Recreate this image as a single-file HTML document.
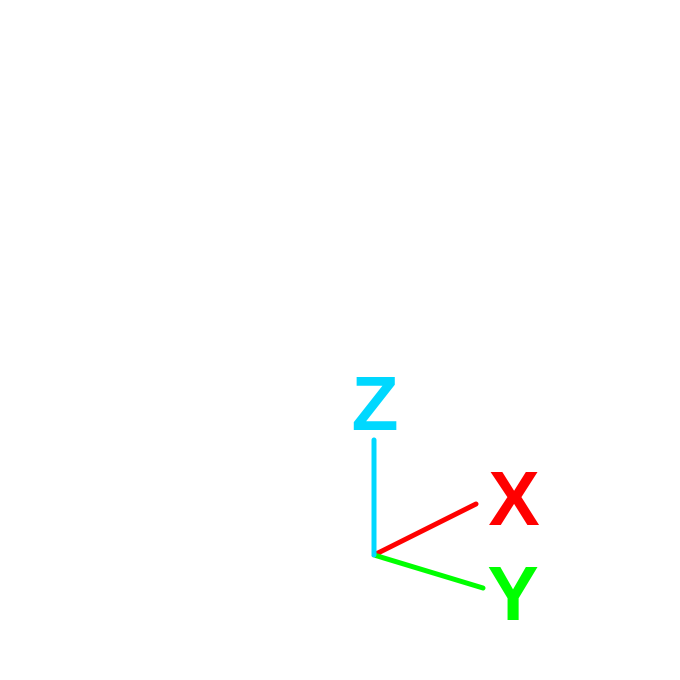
<!DOCTYPE html>
<html><head><meta charset="utf-8"><style>html,body{margin:0;padding:0;background:#fff}svg{display:block}</style></head>
<body>
<svg width="680" height="680" xmlns="http://www.w3.org/2000/svg">
<g id="g"></g>
</svg>
<script>
const axisNames = ['X','Y','Z'];
const axisDx = [102, 109, 0];
const axisDy = [-51, 33, -115];
const axisColors = ['#ff0000','#00ff00','#00d8ff'];
const labelX = [514, 513, 375];
const labelY = [525, 620, 430];
const ox = 374, oy = 555;
const g = document.getElementById('g');
const NS = 'http://www.w3.org/2000/svg';
for (let i = 0; i < axisNames.length; i++) {
  const l = document.createElementNS(NS, 'line');
  l.setAttribute('x1', ox); l.setAttribute('y1', oy);
  l.setAttribute('x2', ox + axisDx[i]); l.setAttribute('y2', oy + axisDy[i]);
  l.setAttribute('stroke', axisColors[i]); l.setAttribute('stroke-width', 5);
  l.setAttribute('stroke-linecap', 'round');
  
  
  g.appendChild(l);
  const t = document.createElementNS(NS, 'text');
  t.setAttribute('x', labelX[i]); t.setAttribute('y', labelY[i]);
  t.setAttribute('fill', axisColors[i]); t.setAttribute('text-anchor', 'middle');
  t.setAttribute('font-family', 'Liberation Sans, sans-serif');
  t.setAttribute('font-weight', 'bold'); t.setAttribute('font-size', '77');
  t.textContent = axisNames[i];
  
  
  g.appendChild(t);
}
</script>
</body></html>
